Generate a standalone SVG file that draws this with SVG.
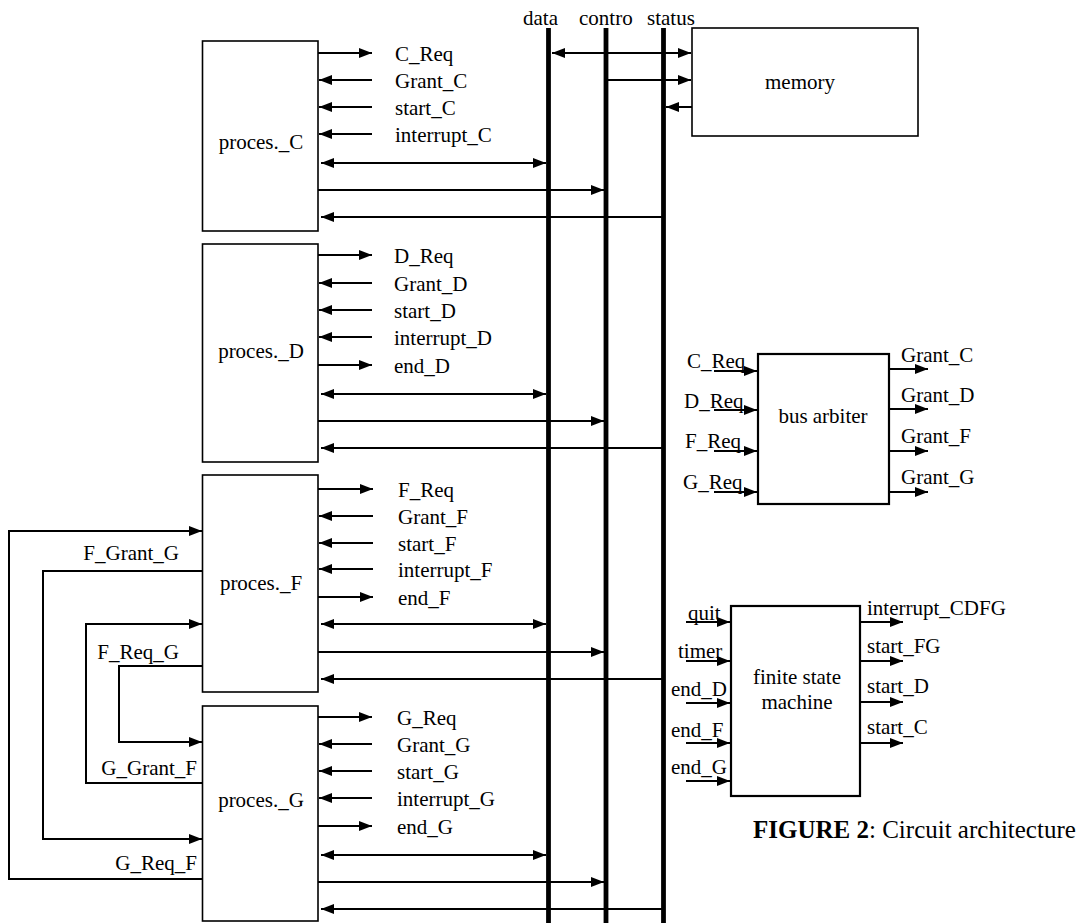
<svg xmlns="http://www.w3.org/2000/svg" width="1083" height="923" viewBox="0 0 1083 923">
<style>
text{font-family:"Liberation Serif","Times New Roman",serif;font-size:21px;fill:#000}
.box{fill:#fff;stroke:#000;stroke-width:1.6}
.box2{fill:#fff;stroke:#000;stroke-width:2.2}
.bus{stroke:#000;stroke-width:4.8;fill:none}
.w{stroke:#000;stroke-width:2;fill:none}
.a{marker-end:url(#ah)}
.b{marker-start:url(#ah);marker-end:url(#ah)}
.mid{text-anchor:middle}
.end{text-anchor:end}
.cap{font-size:25px}
</style>
<defs>
<marker id="ah" markerUnits="userSpaceOnUse" viewBox="0 0 13 10" markerWidth="13" markerHeight="10" refX="13" refY="5" orient="auto-start-reverse">
<path d="M0,0L13,5L0,10z" fill="#000"/>
</marker>
</defs>
<rect width="1083" height="923" fill="#fff"/>

<g id="bus-data"><line class="bus" x1="548.5" y1="28" x2="548.5" y2="923"/><text x="523" y="25">data</text></g>
<g id="bus-contro"><line class="bus" x1="606" y1="28" x2="606" y2="923"/><text x="579" y="25">contro</text></g>
<g id="bus-status"><line class="bus" x1="663.5" y1="28" x2="663.5" y2="923"/><text x="647" y="25">status</text></g>

<g id="memory"><rect class="box" x="692" y="28" width="226" height="108"/><text class="mid" x="800" y="89">memory</text></g>

<g id="proc-C"><rect class="box" x="202.5" y="41" width="115.5" height="190"/><text class="mid" x="261" y="149">proces._C</text>
<text x="395" y="61">C_Req</text><text x="395" y="88">Grant_C</text><text x="395" y="115">start_C</text><text x="395" y="142">interrupt_C</text></g>

<g id="proc-D"><rect class="box" x="202.5" y="244" width="115.5" height="218"/><text class="mid" x="261" y="358">proces._D</text>
<text x="394" y="263">D_Req</text><text x="394" y="291">Grant_D</text><text x="394" y="318">start_D</text><text x="394" y="345">interrupt_D</text><text x="394" y="373">end_D</text></g>

<g id="proc-F"><rect class="box" x="202.5" y="475" width="115.5" height="217"/><text class="mid" x="261" y="590">proces._F</text>
<text x="398" y="497">F_Req</text><text x="398" y="524">Grant_F</text><text x="398" y="551">start_F</text><text x="398" y="577">interrupt_F</text><text x="398" y="605">end_F</text></g>

<g id="proc-G"><rect class="box" x="202.5" y="706" width="115.5" height="215"/><text class="mid" x="261" y="807">proces._G</text>
<text x="397" y="725">G_Req</text><text x="397" y="752">Grant_G</text><text x="397" y="779">start_G</text><text x="397" y="806">interrupt_G</text><text x="397" y="834">end_G</text></g>

<g id="bus-arbiter"><rect class="box2" x="758" y="354" width="131" height="150"/><text class="mid" x="823" y="423">bus arbiter</text>
<text x="687" y="368">C_Req</text><text x="684" y="408">D_Req</text><text x="685" y="448">F_Req</text><text x="683" y="489">G_Req</text>
<text x="901" y="362">Grant_C</text><text x="901" y="402">Grant_D</text><text x="901" y="443">Grant_F</text><text x="901" y="484">Grant_G</text></g>

<g id="fsm"><rect class="box2" x="731" y="606" width="129" height="190"/><text class="mid" x="797" y="684">finite state</text><text class="mid" x="797" y="709">machine</text>
<text x="688" y="620">quit</text><text x="678" y="658">timer</text><text x="671" y="696">end_D</text><text x="671" y="737">end_F</text><text x="671" y="774">end_G</text>
<text x="867" y="615">interrupt_CDFG</text><text x="867" y="653">start_FG</text><text x="867" y="693">start_D</text><text x="867" y="734">start_C</text></g>

<g id="labels-left">
<text class="end" x="179" y="560">F_Grant_G</text><text class="end" x="179" y="659">F_Req_G</text>
<text class="end" x="197" y="775">G_Grant_F</text><text class="end" x="197" y="870">G_Req_F</text>
</g>

<g id="connectors">
<path class="w a" d="M318,53H372"/><path class="w a" d="M372,80H319"/><path class="w a" d="M372,107H319"/><path class="w a" d="M372,134H319"/>
<path class="w b" d="M321,163H546"/><path class="w a" d="M318,190H604"/><path class="w a" d="M663,217H321"/>

<path class="w a" d="M318,255H372"/><path class="w a" d="M372,283H319"/><path class="w a" d="M372,310H319"/><path class="w a" d="M372,337H319"/><path class="w a" d="M318,365H372"/>
<path class="w b" d="M321,394H546"/><path class="w a" d="M318,421H604"/><path class="w a" d="M663,448H321"/>

<path class="w a" d="M318,489H373"/><path class="w a" d="M373,516H319"/><path class="w a" d="M373,543H319"/><path class="w a" d="M373,569H319"/><path class="w a" d="M318,597H373"/>
<path class="w b" d="M321,624H546"/><path class="w a" d="M318,652H604"/><path class="w a" d="M663,679H321"/>

<path class="w a" d="M318,717H372"/><path class="w a" d="M372,744H319"/><path class="w a" d="M372,771H319"/><path class="w a" d="M372,798H319"/><path class="w a" d="M318,826H372"/>
<path class="w b" d="M321,855H546"/><path class="w a" d="M318,882H604"/><path class="w a" d="M663,909H321"/>

<path class="w a" d="M202,879H9V531H202"/>
<path class="w a" d="M202,571H43V839H202"/>
<path class="w a" d="M202,666H119V742H202"/>
<path class="w a" d="M202,783H86V624H202"/>

<path class="w b" d="M552,53H691"/><path class="w a" d="M606,80H691"/><path class="w a" d="M692,107H666"/>

<path class="w a" d="M714,371H757"/><path class="w a" d="M714,410H757"/><path class="w a" d="M714,451H757"/><path class="w a" d="M714,492H757"/>
<path class="w a" d="M889,369H928"/><path class="w a" d="M889,409H928"/><path class="w a" d="M889,451H928"/><path class="w a" d="M889,492H928"/>

<path class="w a" d="M686,622H730"/><path class="w a" d="M686,661H730"/><path class="w a" d="M686,703H730"/><path class="w a" d="M686,743H730"/><path class="w a" d="M686,781H730"/>
<path class="w a" d="M860,622H903"/><path class="w a" d="M860,661H903"/><path class="w a" d="M860,702H903"/><path class="w a" d="M860,743H903"/>
</g>

<g id="caption"><text class="cap" x="753" y="838"><tspan font-weight="bold">FIGURE 2</tspan>: Circuit architecture</text></g>
</svg>
